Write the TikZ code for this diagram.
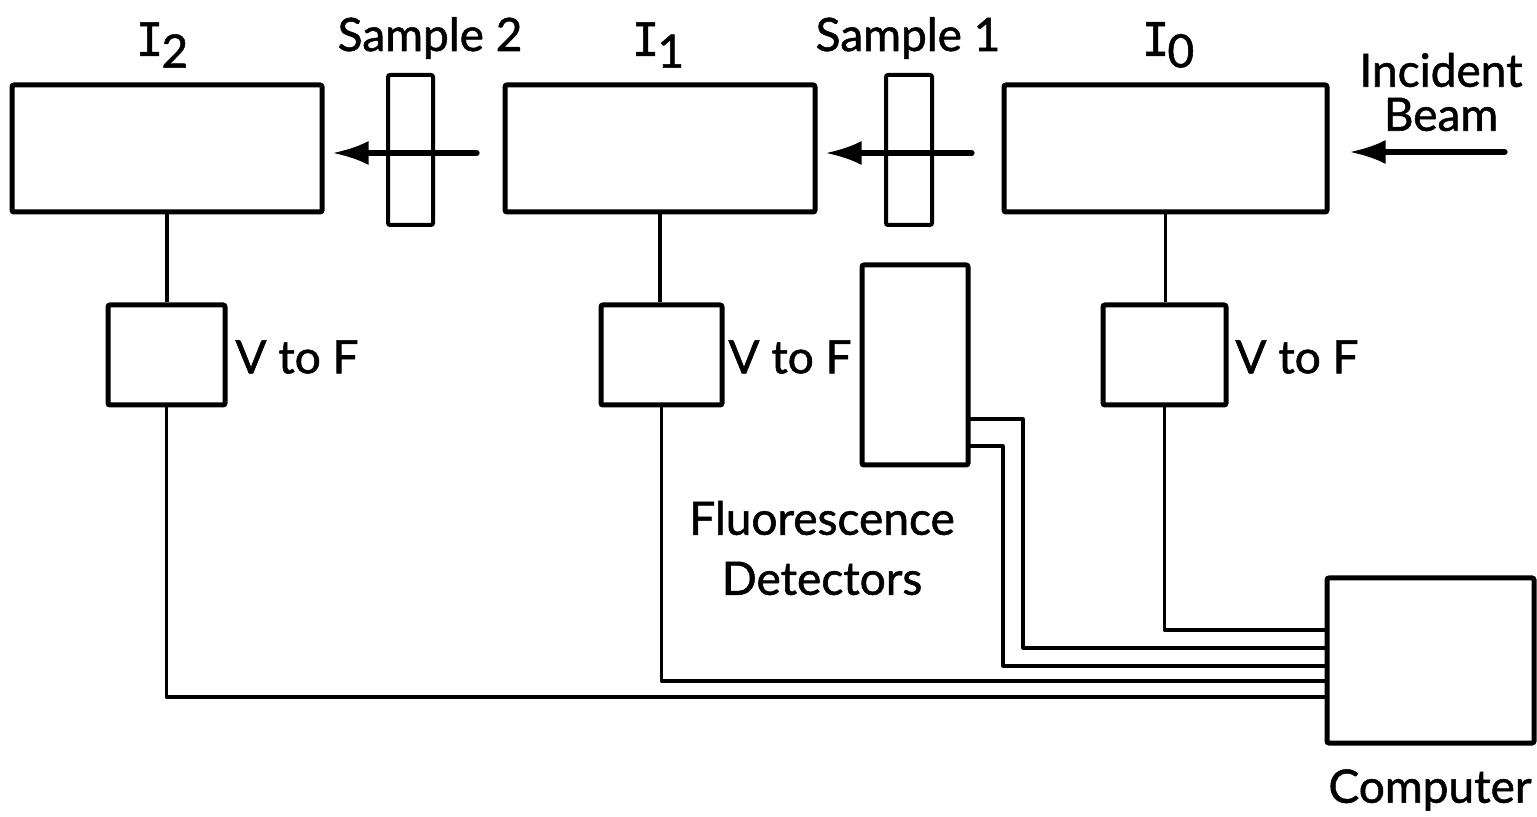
\documentclass[tikz,border=0pt]{standalone}
\usepackage{fontspec}
\setmainfont{Lato}[FakeBold=1.2]
\newfontfamily\serifI{DejaVu Sans Mono}[FakeBold=1.2]
\usetikzlibrary{arrows.meta}
\newcommand{\DetI}[1]{{\serifI I}\kern-1pt\raisebox{-0.5ex}{#1}}
\begin{document}
\begin{tikzpicture}[x=0.5pt,y=-0.5pt,
  box/.style={draw, line width=2.5pt, rounded corners=1pt, inner sep=0pt},
  thinbox/.style={draw, line width=2pt, rounded corners=1pt, inner sep=0pt},
  wire/.style={line width=1.6pt, line join=round},
  beam/.style={line width=2.6pt, line cap=round, -{Latex[length=18pt,width=12pt]}},
  lbl/.style={font=\fontsize{23}{28}\selectfont, inner sep=0pt},
]
\useasboundingbox (0,0) rectangle (1537,817);
% ion chambers
\node[box, minimum width=155pt, minimum height=63.5pt] (i2) at (167,148.5) {};
\node[box, minimum width=155pt, minimum height=63.5pt] (i1) at (660,148.5) {};
\node[box, minimum width=161.5pt, minimum height=63.5pt] (i0) at (1165.5,148.5) {};
% samples
\node[thinbox, minimum width=22.5pt, minimum height=75pt] (s2) at (410.5,150) {};
\node[thinbox, minimum width=23pt, minimum height=75pt] (s1) at (909,150) {};
% V to F boxes
\node[box, minimum width=58.5pt, minimum height=50pt] (vf2) at (166.5,355) {};
\node[box, minimum width=60.5pt, minimum height=50pt] (vf1) at (661.5,355) {};
\node[box, minimum width=61.5pt, minimum height=50pt] (vf0) at (1164.5,355) {};
% fluorescence detectors and computer
\node[box, minimum width=53pt, minimum height=100pt] (fd) at (915,365) {};
\node[box, minimum width=103.5pt, minimum height=82.5pt] (comp) at (1430.5,660.5) {};
% labels
\node[lbl] (l2) at (162,45) {\DetI{2}};
\node[lbl] (l1) at (658,45) {\DetI{1}};
\node[lbl] (l0) at (1168,45) {\DetI{0}};
\node[lbl] (ls2) at (430,38) {Sample 2};
\node[lbl] (ls1) at (908,38) {Sample 1};
\node[lbl, align=center] (linc) at (1441,92) {Incident\\[-6pt]Beam};
\node[lbl, anchor=west] (lv2) at (235,357) {V to F};
\node[lbl, anchor=west] (lv1) at (728,357) {V to F};
\node[lbl, anchor=west] (lv0) at (1235,357) {V to F};
\node[lbl, align=center] (lfd) at (822,548) {Fluorescence\\[2pt]Detectors};
\node[lbl] (lcomp) at (1430,790) {Computer};
% beams
\coordinate (bin) at (1505,152);
\coordinate (b1) at (972,153);
\coordinate (b2) at (477,153);
\draw[beam, shorten >=10pt] (bin) -- (i0.east |- bin);
\draw[beam, shorten >=4pt] (b1) -- (i1.east |- b1);
\draw[beam, shorten >=4pt] (b2) -- (i2.east |- b2);
% chamber to V to F
\draw[wire] (i2.south) -- (i2.south |- vf2.north);
\draw[wire] (i1.south) -- (i1.south |- vf1.north);
\draw[wire] (i0.south) -- (i0.south |- vf0.north);
% cables to computer
\coordinate (c0) at (1327,630);
\coordinate (c1) at (1327,648);
\coordinate (c2) at (1327,666);
\coordinate (c3) at (1327,681);
\coordinate (c4) at (1327,697);
\coordinate (fa) at (968,419);
\coordinate (fb) at (968,446);
\draw[wire] (vf0.south) |- (c0);
\draw[wire] (fa) -- (1023,419) |- (c1);
\draw[wire] (fb) -- (1003,446) |- (c2);
\draw[wire] (vf1.south) |- (c3);
\draw[wire] (vf2.south) |- (c4);
\end{tikzpicture}
\end{document}
